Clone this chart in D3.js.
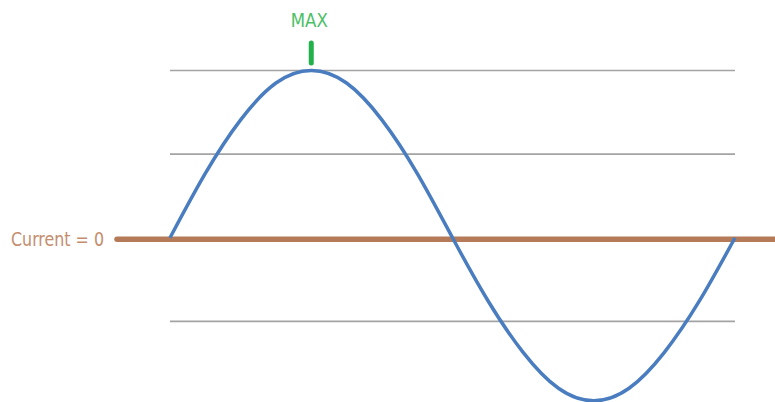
<!DOCTYPE html>
<html>
<head>
<meta charset="utf-8">
<script src="https://cdn.jsdelivr.net/npm/d3@7"></script>
<style>
  html, body { margin: 0; padding: 0; background: #fff; }
  svg { display: block; }
</style>
</head>
<body>
<svg id="chart"></svg>
<script>
// values, 16 samples per period
const phase = d3.range(0, 17);
const current = [0, 0.77, 1.41, 1.85, 2, 1.85, 1.41, 0.77, 0,
  -0.75, -1.37, -1.8, -1.95, -1.8, -1.37, -0.75, 0];
const gridValues = [2, 1, -1, -2];
const zeroLabel = "Current = 0";
const maxLabel = "MAX";
const maxAt = 4;

const width = 775, height = 402;

var svg = d3.select("#chart").attr("width", width).attr("height", height);

var x = d3.scaleLinear().domain([0, 16]).range([170, 735]);
var y = d3.scaleLinear().domain([-2, 2]).range([405, 70.5]);

// grid lines
svg.append("g")
  .selectAll("line")
  .data(gridValues)
  .enter()
  .append("line")
  .attr("x1", x(0))
  .attr("x2", x(16))
  .attr("y1", d => y(d))
  .attr("y2", d => y(d))
  .attr("stroke", "#a3a3a3")
  .attr("stroke-width", 1.6);

// zero line
svg.append("line")
  .attr("x1", 117)
  .attr("x2", width + 5)
  .attr("y1", y(0) + 1.5)
  .attr("y2", y(0) + 1.5)
  .attr("stroke", "#b57b58")
  .attr("stroke-width", 5.5)
  .attr("stroke-linecap", "round");

svg.append("text")
  .attr("x", 11)
  .attr("y", y(0) + 8.5)
  .attr("fill", "#c48d6d")
  .attr("font-family", "'DejaVu Sans Condensed', 'Liberation Sans', sans-serif")
  .attr("font-size", 20)
  .attr("textLength", 93)
  .attr("lengthAdjust", "spacingAndGlyphs")
  .text(zeroLabel);

// the wave
var line = d3.line()
  .x((d, i) => x(phase[i]))
  .y(d => y(d))
  .curve(d3.curveNatural);

svg.append("path")
  .datum(current)
  .attr("d", line)
  .attr("fill", "none")
  .attr("stroke", "#4a7dc0")
  .attr("stroke-width", 3.5);

// max marker
svg.append("line")
  .attr("x1", x(maxAt))
  .attr("x2", x(maxAt))
  .attr("y1", 43)
  .attr("y2", 63)
  .attr("stroke", "#22b04a")
  .attr("stroke-width", 5)
  .attr("stroke-linecap", "round");

svg.append("text")
  .attr("x", x(maxAt) - 2)
  .attr("y", 27)
  .attr("text-anchor", "middle")
  .attr("fill", "#4cbf67")
  .attr("font-family", "'DejaVu Sans Condensed', 'Liberation Sans', sans-serif")
  .attr("font-size", 20)
  .attr("textLength", 37)
  .attr("lengthAdjust", "spacingAndGlyphs")
  .text(maxLabel);
</script>
</body>
</html>
